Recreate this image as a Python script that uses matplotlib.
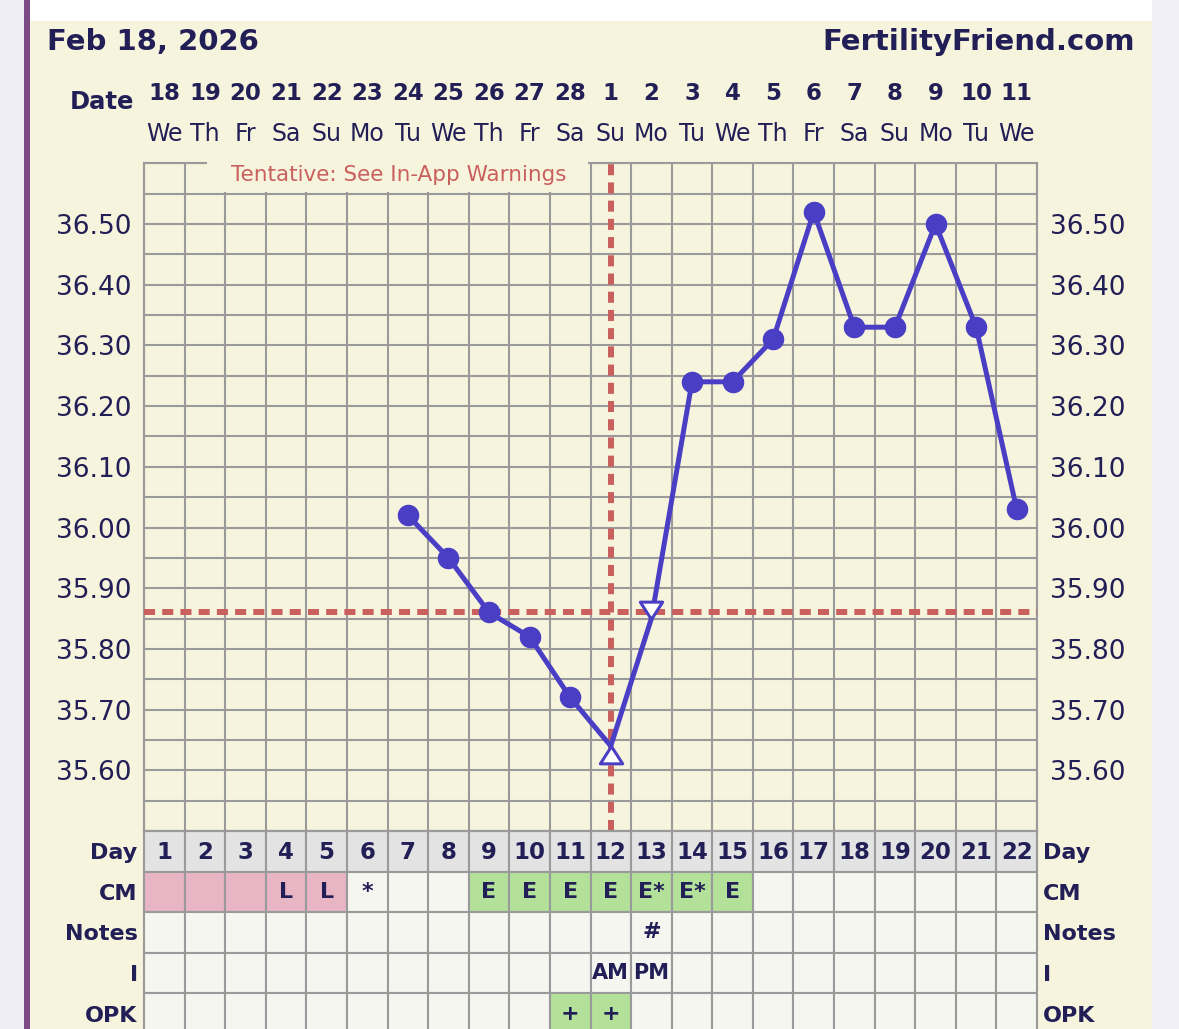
import numpy as np
import matplotlib.pyplot as plt
import matplotlib.transforms as mtransforms
from matplotlib.patches import Rectangle

# ---- data ----
days = np.arange(1, 23)
dates = ['18', '19', '20', '21', '22', '23', '24', '25', '26', '27', '28',
         '1', '2', '3', '4', '5', '6', '7', '8', '9', '10', '11']
weekdays = ['We', 'Th', 'Fr', 'Sa', 'Su', 'Mo', 'Tu', 'We', 'Th', 'Fr', 'Sa',
            'Su', 'Mo', 'Tu', 'We', 'Th', 'Fr', 'Sa', 'Su', 'Mo', 'Tu', 'We']

temp_days = [7, 8, 9, 10, 11, 12, 13, 14, 15, 16, 17, 18, 19, 20, 21, 22]
temps = [36.02, 35.95, 35.86, 35.82, 35.72, 35.64, 35.85, 36.24, 36.24,
         36.31, 36.52, 36.33, 36.33, 36.50, 36.33, 36.03]
open_up_days = [12]      # open triangle pointing up
open_down_days = [13]    # open triangle pointing down
coverline = 35.86
ovulation_day = 12

row_names = ['Day', 'CM', 'Notes', 'I', 'OPK']
cm_text = ['', '', '', 'L', 'L', '*', '', '', 'E', 'E', 'E', 'E', 'E*', 'E*', 'E',
           '', '', '', '', '', '', '']
cm_kind = ['m', 'm', 'm', 'm', 'm', '', '', '', 'e', 'e', 'e', 'e', 'e', 'e', 'e',
           '', '', '', '', '', '', '']
notes_text = {13: '#'}
intercourse_text = {12: 'AM', 13: 'PM'}
opk_text = {11: '+', 12: '+'}

# ---- style ----
W, H = 1179, 1029
cream = '#f7f4de'
navy = '#221e56'
grid_c = '#9a9a9a'
red = '#c9605e'
blue = '#4a3fc4'
pink = '#e8b5c4'
green = '#b3e19a'
cell_c = '#f6f6f1'
day_c = '#e3e3e3'

fig = plt.figure(figsize=(W / 100, H / 100), dpi=100, facecolor=cream)

# page decoration
fig.add_artist(Rectangle((0, 0), 24 / W, 1, transform=fig.transFigure,
                         facecolor='#efeef5', edgecolor='none', zorder=-5))
fig.add_artist(Rectangle((24 / W, 0), 6 / W, 1, transform=fig.transFigure,
                         facecolor='#7c4b86', edgecolor='none', zorder=-5))
fig.add_artist(Rectangle((30 / W, 1 - 21 / H), 1122 / W, 21 / H, transform=fig.transFigure,
                         facecolor='white', edgecolor='none', zorder=-5))
fig.add_artist(Rectangle((1152 / W, 0), 27 / W, 1, transform=fig.transFigure,
                         facecolor='#efeff5', edgecolor='none', zorder=-5))

fig.text(47 / W, 1 - 42 / H, 'Feb 18, 2026', ha='left', va='center',
         fontsize=21, fontweight='bold', color=navy)
fig.text(1135 / W, 1 - 42 / H, 'FertilityFriend.com', ha='right', va='center',
         fontsize=21, fontweight='bold', color=navy)

# ---- temperature chart ----
ax = fig.add_axes([144 / W, 1 - 831 / H, 893 / W, 667.7 / H])
ax.set_facecolor(cream)
ax.set_xlim(0.5, 22.5)
ax.set_ylim(35.5, 36.6)
ax.set_xticks([])
ax.set_xticks(np.arange(0.5, 23, 1), minor=True)
ax.set_yticks(np.round(np.arange(35.6, 36.55, 0.1), 2))
ax.set_yticks(np.arange(35.5, 36.62, 0.05), minor=True)
ax.yaxis.set_major_formatter(lambda v, p: f'{v:.2f}')
ax.grid(which='both', color=grid_c, lw=1.5)
ax.set_axisbelow(True)
ax.tick_params(which='both', length=0)
ax.tick_params(axis='y', which='major', labelleft=True, labelright=True,
               labelsize=19, labelcolor=navy, pad=9)
for s in ax.spines.values():
    s.set_color(grid_c)
    s.set_linewidth(1.5)

top = mtransforms.blended_transform_factory(ax.transData, fig.transFigure)
for d, dt, wd in zip(days, dates, weekdays):
    ax.text(d, 1 - 94 / H, dt, transform=top, ha='center', va='center',
            fontsize=16.5, fontweight='bold', color=navy)
    ax.text(d, 1 - 134 / H, wd, transform=top, ha='center', va='center',
            fontsize=17, color=navy)
fig.text(134 / W, 1 - 102 / H, 'Date', ha='right', va='center',
         fontsize=17.5, fontweight='bold', color=navy)

# warning label covering the top row
ax.add_patch(Rectangle((2.05, 36.553), 9.39, 0.06, facecolor=cream,
                       edgecolor='none', zorder=2.6, clip_on=False))
ax.text(6.77, 36.581, 'Tentative: See In-App Warnings', ha='center', va='center',
        fontsize=15.5, color=red, zorder=3)

dash = (0, (1.85, 1.2))
ax.axhline(coverline, color=red, lw=4.3, ls=dash, zorder=3)
ax.axvline(ovulation_day, color=red, lw=4.3, ls=dash, zorder=3)

ax.plot(temp_days, temps, color=blue, lw=3.6, zorder=4, solid_joinstyle='round')
open_days = open_up_days + open_down_days
filled = [(d, t) for d, t in zip(temp_days, temps) if d not in open_days]
ax.plot([d for d, t in filled], [t for d, t in filled], 'o', color=blue,
        ms=14.5, zorder=5)
tri_up = [(0, 0), (-0.58, -0.9), (0.58, -0.9), (0, 0)]
tri_down = [(0, 0), (-0.58, 0.9), (0.58, 0.9), (0, 0)]
for sel, mk in [(open_up_days, tri_up), (open_down_days, tri_down)]:
    pts = [(d, t) for d, t in zip(temp_days, temps) if d in sel]
    ax.plot([d for d, t in pts], [t for d, t in pts], ls='none', marker=mk,
            ms=25, mfc='white', mec=blue, mew=2.2, zorder=5)

# ---- lower table ----
tax = fig.add_axes([144 / W, 1 - 1034 / H, 893 / W, 203 / H])
tax.set_xlim(0.5, 22.5)
tax.set_ylim(5, 0)
tax.set_facecolor(cell_c)

row_colors = [
    [day_c] * 22,
    [pink if k == 'm' else green if k == 'e' else cell_c for k in cm_kind],
    [cell_c] * 22,
    [cell_c] * 22,
    [green if d in opk_text else cell_c for d in days],
]
for r, cols in enumerate(row_colors):
    tax.bar(days, 1, bottom=r, width=1, color=cols, edgecolor=grid_c, lw=1.5)

cell_font = dict(ha='center', va='center', fontweight='bold', color=navy)
for d in days:
    tax.text(d, 0.52, str(d), fontsize=16.5, **cell_font)
for d, t in zip(days, cm_text):
    if t:
        tax.text(d, 1.5, t, fontsize=16, **cell_font)
for d, t in notes_text.items():
    tax.text(d, 2.5, t, fontsize=16, **cell_font)
for d, t in intercourse_text.items():
    tax.text(d, 3.5, t, fontsize=15, **cell_font)
for d, t in opk_text.items():
    tax.text(d, 4.5, t, fontsize=16, **cell_font)

tax.set_xticks([])
tax.set_yticks(np.arange(5) + 0.5, row_names)
tax.tick_params(length=0, labelleft=True, labelright=True, labelsize=16,
                labelcolor=navy, pad=4.5)
for t in tax.yaxis.get_major_ticks():
    t.label1.set_fontweight('bold')
    t.label2.set_fontweight('bold')
for s in tax.spines.values():
    s.set_color(grid_c)
    s.set_linewidth(1.5)

fig.savefig('out.png', dpi=100, facecolor=fig.get_facecolor())
